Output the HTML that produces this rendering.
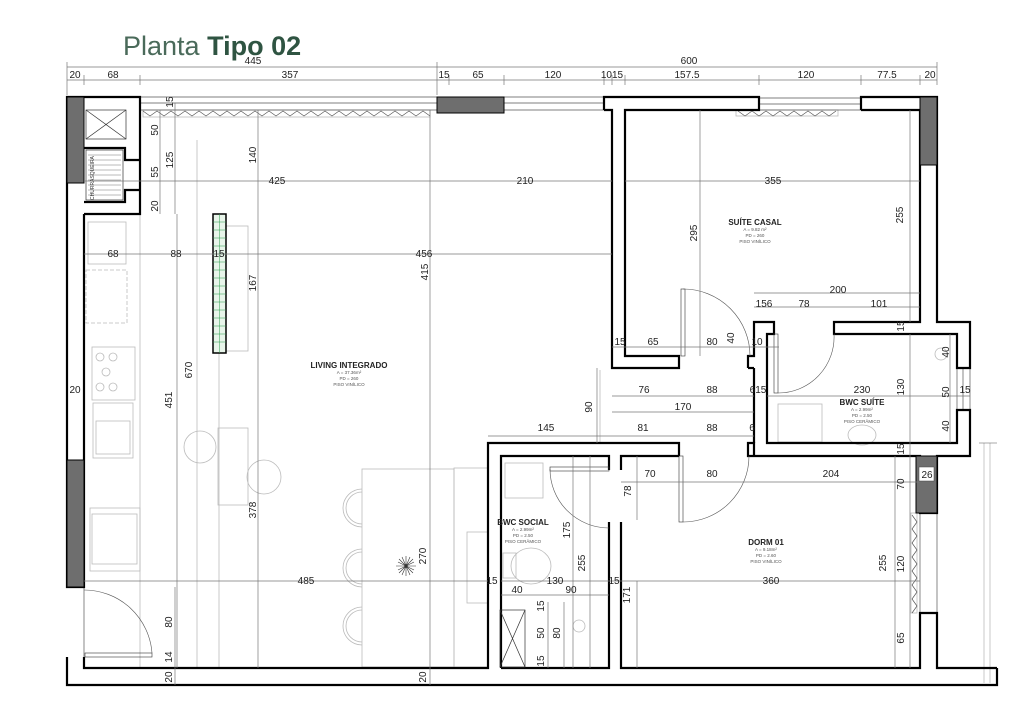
<!DOCTYPE html>
<html><head><meta charset="utf-8"><style>
html,body{margin:0;padding:0;background:#fff;}
svg{display:block;}
text{font-family:"Liberation Sans",sans-serif;fill:#222;}
.d{font-size:10px;text-anchor:middle;}
.dim{stroke:#777;stroke-width:0.7;fill:none;}
.lt{stroke:#bbb;stroke-width:0.8;fill:none;}
.w{fill:#000;}
.g{fill:#6e6e6e;stroke:#000;stroke-width:1;}
.rm{font-size:8px;font-weight:bold;text-anchor:middle;}
.sm{font-size:4.5px;text-anchor:middle;fill:#555;}
</style></head><body>
<svg width="1024" height="725" viewBox="0 0 1024 725" xmlns="http://www.w3.org/2000/svg">
<rect width="1024" height="725" fill="#fff"/>
<!-- title -->
<text x="123" y="55" style="font-size:27px;fill:#2f5442;"><tspan style="fill:#4a6a5a">Planta</tspan> <tspan font-weight="bold">Tipo 02</tspan></text>

<!-- top dimension lines -->
<line class="dim" x1="67" y1="67" x2="937" y2="67"/>
<line class="dim" x1="67" y1="80" x2="937" y2="80"/>
<g class="dim">
<line x1="67" y1="62" x2="67" y2="95"/><line x1="84" y1="75" x2="84" y2="85"/><line x1="140" y1="75" x2="140" y2="85"/>
<line x1="437" y1="62" x2="437" y2="95"/><line x1="449" y1="75" x2="449" y2="85"/><line x1="504" y1="75" x2="504" y2="85"/>
<line x1="604" y1="75" x2="604" y2="85"/><line x1="612" y1="75" x2="612" y2="85"/><line x1="625" y1="75" x2="625" y2="85"/>
<line x1="759" y1="75" x2="759" y2="85"/><line x1="861" y1="75" x2="861" y2="85"/><line x1="920" y1="75" x2="920" y2="85"/><line x1="937" y1="62" x2="937" y2="85"/>
</g>
<text class="d" x="253" y="64">445</text><text class="d" x="689" y="64">600</text>
<text class="d" x="75" y="78">20</text><text class="d" x="113" y="78">68</text><text class="d" x="290" y="78">357</text>
<text class="d" x="444" y="78">15</text><text class="d" x="478" y="78">65</text><text class="d" x="553" y="78">120</text>
<text class="d" x="612" y="78">1015</text><text class="d" x="687" y="78">157.5</text><text class="d" x="806" y="78">120</text>
<text class="d" x="887" y="78">77.5</text><text class="d" x="930" y="78">20</text>

<!-- light interior lines -->
<g class="lt">
<line x1="197" y1="140" x2="197" y2="667"/>
<line x1="219" y1="214" x2="219" y2="667"/>
<line x1="140" y1="110" x2="140" y2="667"/>
<line x1="600" y1="370" x2="600" y2="443"/>
<rect x="226" y="226" width="22" height="125"/>
<rect x="218" y="428" width="30" height="77"/>
<circle cx="200" cy="447" r="16"/><circle cx="264" cy="477" r="17"/>
<rect x="362" y="469" width="92" height="198"/>
<rect x="454" y="468" width="34" height="199"/>
<rect x="467" y="532" width="21" height="71"/>
<path d="M362 489 a19 19 0 0 0 0 38 M362 549 a19 19 0 0 0 0 38 M362 607 a19 19 0 0 0 0 38"/>
<path d="M362 492 a16 16 0 0 0 0 32 M362 552 a16 16 0 0 0 0 32 M362 610 a16 16 0 0 0 0 32"/>
<rect x="88" y="222" width="38" height="42"/><rect x="86" y="270" width="41" height="53" stroke-dasharray="4 2"/>
<rect x="92" y="347" width="43" height="53"/><rect x="93" y="403" width="40" height="55"/><rect x="96" y="421" width="34" height="33"/>
<rect x="90" y="508" width="50" height="63"/><rect x="92" y="514" width="45" height="50"/>
<circle cx="100" cy="357" r="4"/><circle cx="113" cy="357" r="4"/><circle cx="106" cy="372" r="4"/><circle cx="100" cy="387" r="4"/><circle cx="113" cy="387" r="4"/>
<rect x="505" y="463" width="38" height="35"/><ellipse cx="531" cy="566" rx="20" ry="18"/><rect x="503" y="553" width="13" height="25"/>
<rect x="778" y="404" width="44" height="38"/><ellipse cx="862" cy="435" rx="14" ry="10"/>
<circle cx="941" cy="354" r="6"/><circle cx="579" cy="626" r="6"/>
<line x1="990" y1="443" x2="990" y2="683"/><line x1="984" y1="443" x2="984" y2="683"/>
<rect x="736" y="110" width="102" height="6"/>
<rect x="143" y="110" width="287" height="7"/>
<rect x="911" y="513" width="6" height="100"/>
</g>
<!-- zigzags -->
<polyline fill="none" stroke="#555" stroke-width="0.7" points="143,111 150,116 157,111 164,116 171,111 178,116 185,111 192,116 199,111 206,116 213,111 220,116 227,111 234,116 241,111 248,116 255,111 262,116 269,111 276,116 283,111 290,116 297,111 304,116 311,111 318,116 325,111 332,116 339,111 346,116 353,111 360,116 367,111 374,116 381,111 388,116 395,111 402,116 409,111 416,116 423,111 430,116"/>
<polyline fill="none" stroke="#555" stroke-width="0.7" points="738,111 745,116 752,111 759,116 766,111 773,116 780,111 787,116 794,111 801,116 808,111 815,116 822,111 829,116 836,111"/>
<polyline fill="none" stroke="#555" stroke-width="0.7" points="912,515 917,522 912,529 917,536 912,543 917,550 912,557 917,564 912,571 917,578 912,585 917,592 912,599 917,606 912,613"/>
<!-- top glazing lines -->
<g stroke="#555" stroke-width="0.7"><line x1="140" y1="97" x2="437" y2="97"/><line x1="140" y1="103" x2="437" y2="103"/><line x1="140" y1="110" x2="437" y2="110"/>
<line x1="504" y1="97" x2="604" y2="97"/><line x1="504" y1="103" x2="604" y2="103"/><line x1="504" y1="110" x2="604" y2="110"/>
<line x1="759" y1="98" x2="861" y2="98"/><line x1="759" y1="104" x2="861" y2="104"/><line x1="759" y1="110" x2="861" y2="110"/>
<line x1="957" y1="368" x2="957" y2="410"/><line x1="963" y1="368" x2="963" y2="410"/><line x1="970" y1="368" x2="970" y2="410"/>
<line x1="920" y1="513" x2="920" y2="613"/><line x1="937" y1="513" x2="937" y2="613"/>
<line x1="84" y1="587" x2="84" y2="657"/></g>

<!-- walls -->
<g fill="none" stroke="#000" stroke-width="2.2">
<polyline points="84,97 67,97 67,587 84,587 84,214"/>
<polyline points="67,657 67,685 997,685 997,668"/>
<polyline points="84,657 84,668 488,668 488,443 679,443 679,456"/>
<polyline points="501,668 501,456 609,456 609,470"/>
<polyline points="621,470 621,456 679,456"/>
<polyline points="609,522 609,668 501,668"/>
<polyline points="621,522 621,668 920,668 920,613 937,613 937,668 997,668"/>
<polyline points="84,97 140,97 140,214 84,214"/>
<polyline points="84,148 125,148 125,160 140,160"/><polyline points="84,202 125,202 125,190 140,190"/>
<polyline points="604,110 604,97 759,97 759,110 625,110 625,356 679,356 679,368 612,368 612,110 604,110"/>
<polyline points="861,110 861,97 937,97 937,322 970,322 970,368 957,368 957,334 834,334 834,322 920,322 920,110 861,110"/>
<polyline points="748,368 748,356 754,356 754,322 774,322 774,334 767,334 767,443 957,443 957,410 970,410 970,456 937,456 937,513 920,513 920,456 754,456 754,443 748,443 748,456 754,456"/>
<line x1="754" y1="368" x2="754" y2="443"/><line x1="748" y1="368" x2="754" y2="368"/>
</g>
<!-- gray walls -->
<rect class="g" x="67" y="97" width="17" height="86"/>
<rect class="g" x="67" y="460" width="17" height="127"/>
<rect class="g" x="437" y="97" width="67" height="16"/>
<rect class="g" x="920" y="97" width="17" height="68"/>
<rect class="g" x="916" y="456" width="21" height="57"/>
<rect x="919" y="467" width="15" height="14" fill="#fff" stroke="#444" stroke-width="0.5"/>
<g stroke="#333" stroke-width="0.7" fill="none">
<rect x="86" y="110" width="40" height="29"/><line x1="86" y1="110" x2="126" y2="139"/><line x1="126" y1="110" x2="86" y2="139"/>
<rect x="86" y="150" width="37" height="50"/>
<rect x="500" y="610" width="25" height="57"/><line x1="500" y1="610" x2="525" y2="667"/><line x1="525" y1="610" x2="500" y2="667"/>
</g>
<g stroke="#777" stroke-width="0.5"><line x1="88" y1="155" x2="121" y2="155"/><line x1="88" y1="160" x2="121" y2="160"/><line x1="88" y1="165" x2="121" y2="165"/><line x1="88" y1="170" x2="121" y2="170"/><line x1="88" y1="175" x2="121" y2="175"/><line x1="88" y1="180" x2="121" y2="180"/><line x1="88" y1="185" x2="121" y2="185"/><line x1="88" y1="190" x2="121" y2="190"/><line x1="88" y1="195" x2="121" y2="195"/></g>
<text x="0" y="0" transform="translate(94,200) rotate(-90)" style="font-size:5px;fill:#333;">CHURRASQUEIRA</text>
<rect x="213" y="214" width="13" height="139" fill="#e8f5ea" stroke="#000" stroke-width="1.5"/>
<g stroke="#2a9a4a" stroke-width="0.5"><line x1="219.5" y1="214" x2="219.5" y2="353"/>
<path d="M213 222H226M213 230H226M213 238H226M213 246H226M213 254H226M213 262H226M213 270H226M213 278H226M213 286H226M213 294H226M213 302H226M213 310H226M213 318H226M213 326H226M213 334H226M213 342H226"/></g>
<g stroke="#333" stroke-width="0.6"><path d="M396 566l20 0M406 556l0 20M399 559l14 14M413 559l-14 14M398 562l16 8M398 570l16-8M402 557l8 18M410 557l-8 18"/></g>
<g fill="none" stroke="#555" stroke-width="0.6">
<rect x="681" y="289" width="4" height="67" stroke="#333"/><path d="M683 289 A67 67 0 0 1 750 356"/>
<rect x="679" y="456" width="4" height="66" stroke="#333"/><path d="M683 522 A66 66 0 0 0 749 456"/>
<rect x="550" y="467" width="59" height="4" stroke="#333"/><path d="M550 469 A59 59 0 0 0 609 528"/>
<rect x="774" y="334" width="4" height="59" stroke="#333"/><path d="M778 393 A56 56 0 0 0 834 334"/>
<rect x="85" y="653" width="67" height="4" stroke="#333"/><path d="M84 590 A68 68 0 0 1 152 653"/>
<line x1="979" y1="443" x2="997" y2="443"/>
</g>

<g class="dim">
<line x1="175" y1="103" x2="175" y2="214"/><line x1="160" y1="110" x2="160" y2="214"/>
<line x1="258" y1="110" x2="258" y2="668"/>
<line x1="430" y1="110" x2="430" y2="685"/>
<line x1="177" y1="214" x2="177" y2="668"/>
<line x1="84" y1="181" x2="612" y2="181"/><line x1="625" y1="181" x2="920" y2="181"/>
<line x1="84" y1="254" x2="612" y2="254"/>
<line x1="84" y1="581" x2="488" y2="581"/><line x1="501" y1="581" x2="920" y2="581"/>
<line x1="700" y1="110" x2="700" y2="356"/><line x1="910" y1="110" x2="910" y2="322"/>
<line x1="754" y1="293" x2="920" y2="293"/><line x1="754" y1="307" x2="920" y2="307"/>
<line x1="612" y1="347" x2="779" y2="347"/>
<line x1="612" y1="396" x2="754" y2="396"/><line x1="767" y1="396" x2="970" y2="396"/>
<line x1="612" y1="412" x2="754" y2="412"/>
<line x1="488" y1="436" x2="754" y2="436"/>
<line x1="621" y1="482" x2="920" y2="482"/>
<line x1="501" y1="595" x2="609" y2="595"/>
<line x1="597" y1="368" x2="597" y2="443"/>
<line x1="573" y1="456" x2="573" y2="668"/><line x1="590" y1="456" x2="590" y2="668"/>
<line x1="637" y1="456" x2="637" y2="520"/><line x1="637" y1="581" x2="637" y2="668"/>
<line x1="895" y1="456" x2="895" y2="668"/><line x1="910" y1="334" x2="910" y2="668"/>
<line x1="950" y1="334" x2="950" y2="443"/>
<line x1="548" y1="602" x2="548" y2="668"/><line x1="564" y1="602" x2="564" y2="668"/>
<line x1="175" y1="587" x2="175" y2="685"/>
</g>

<text class="d" x="277" y="184">425</text><text class="d" x="525" y="184">210</text><text class="d" x="773" y="184">355</text>
<text class="d" x="113" y="257">68</text><text class="d" x="176" y="257">88</text><text class="d" x="219" y="257">15</text><text class="d" x="424" y="257">456</text>
<text class="d" x="838" y="293">200</text><text class="d" x="764" y="307">156</text><text class="d" x="804" y="307">78</text><text class="d" x="879" y="307">101</text>
<text class="d" x="620" y="345">15</text><text class="d" x="653" y="345">65</text><text class="d" x="712" y="345">80</text><text class="d" x="757" y="345">10</text>
<text class="d" x="644" y="393">76</text><text class="d" x="712" y="393">88</text><text class="d" x="758" y="393">615</text><text class="d" x="862" y="393">230</text><text class="d" x="965" y="393">15</text>
<text class="d" x="75" y="393">20</text><text class="d" x="683" y="410">170</text>
<text class="d" x="546" y="431">145</text><text class="d" x="643" y="431">81</text><text class="d" x="712" y="431">88</text><text class="d" x="752" y="431">6</text>
<text class="d" x="650" y="477">70</text><text class="d" x="712" y="477">80</text><text class="d" x="831" y="477">204</text><text class="d" x="927" y="478">26</text>
<text class="d" x="306" y="584">485</text><text class="d" x="492" y="584">15</text><text class="d" x="555" y="584">130</text><text class="d" x="614" y="584">15</text><text class="d" x="771" y="584">360</text>
<text class="d" x="517" y="593">40</text><text class="d" x="571" y="593">90</text>
<g class="d">
<text transform="translate(173,102) rotate(-90)">15</text>
<text transform="translate(158,130) rotate(-90)">50</text>
<text transform="translate(173,160) rotate(-90)">125</text>
<text transform="translate(256,155) rotate(-90)">140</text>
<text transform="translate(158,172) rotate(-90)">55</text>
<text transform="translate(158,206) rotate(-90)">20</text>
<text transform="translate(697,233) rotate(-90)">295</text>
<text transform="translate(903,215) rotate(-90)">255</text>
<text transform="translate(428,272) rotate(-90)">415</text>
<text transform="translate(256,283) rotate(-90)">167</text>
<text transform="translate(734,338) rotate(-90)">40</text>
<text transform="translate(904,326) rotate(-90)">15</text>
<text transform="translate(949,352) rotate(-90)">40</text>
<text transform="translate(192,370) rotate(-90)">670</text>
<text transform="translate(904,387) rotate(-90)">130</text>
<text transform="translate(949,392) rotate(-90)">50</text>
<text transform="translate(172,400) rotate(-90)">451</text>
<text transform="translate(592,407) rotate(-90)">90</text>
<text transform="translate(949,426) rotate(-90)">40</text>
<text transform="translate(904,449) rotate(-90)">15</text>
<text transform="translate(904,484) rotate(-90)">70</text>
<text transform="translate(631,491) rotate(-90)">78</text>
<text transform="translate(256,510) rotate(-90)">378</text>
<text transform="translate(570,530) rotate(-90)">175</text>
<text transform="translate(585,563) rotate(-90)">255</text>
<text transform="translate(886,563) rotate(-90)">255</text>
<text transform="translate(904,564) rotate(-90)">120</text>
<text transform="translate(426,556) rotate(-90)">270</text>
<text transform="translate(630,595) rotate(-90)">171</text>
<text transform="translate(544,606) rotate(-90)">15</text>
<text transform="translate(172,622) rotate(-90)">80</text>
<text transform="translate(544,633) rotate(-90)">50</text>
<text transform="translate(560,633) rotate(-90)">80</text>
<text transform="translate(904,638) rotate(-90)">65</text>
<text transform="translate(544,661) rotate(-90)">15</text>
<text transform="translate(172,657) rotate(-90)">14</text>
<text transform="translate(172,677) rotate(-90)">20</text>
<text transform="translate(426,677) rotate(-90)">20</text>
</g>

<text class="rm" x="755" y="225">SUÍTE CASAL</text>
<text class="sm" x="755" y="231">A = 9.82 m²</text><text class="sm" x="755" y="237">PD = 260</text><text class="sm" x="755" y="243">PISO VINÍLICO</text>
<text class="rm" x="349" y="368">LIVING INTEGRADO</text>
<text class="sm" x="349" y="374">A = 37.36m²</text><text class="sm" x="349" y="380">PD = 260</text><text class="sm" x="349" y="386">PISO VINÍLICO</text>
<text class="rm" x="862" y="405">BWC SUÍTE</text>
<text class="sm" x="862" y="411">A = 2.99m²</text><text class="sm" x="862" y="417">PD = 2.50</text><text class="sm" x="862" y="423">PISO CERÂMICO</text>
<text class="rm" x="523" y="525">BWC SOCIAL</text>
<text class="sm" x="523" y="531">A = 2.99m²</text><text class="sm" x="523" y="537">PD = 2.50</text><text class="sm" x="523" y="543">PISO CERÂMICO</text>
<text class="rm" x="766" y="545">DORM 01</text>
<text class="sm" x="766" y="551">A = 9.18m²</text><text class="sm" x="766" y="557">PD = 2.60</text><text class="sm" x="766" y="563">PISO VINÍLICO</text>
</svg>
</body></html>
